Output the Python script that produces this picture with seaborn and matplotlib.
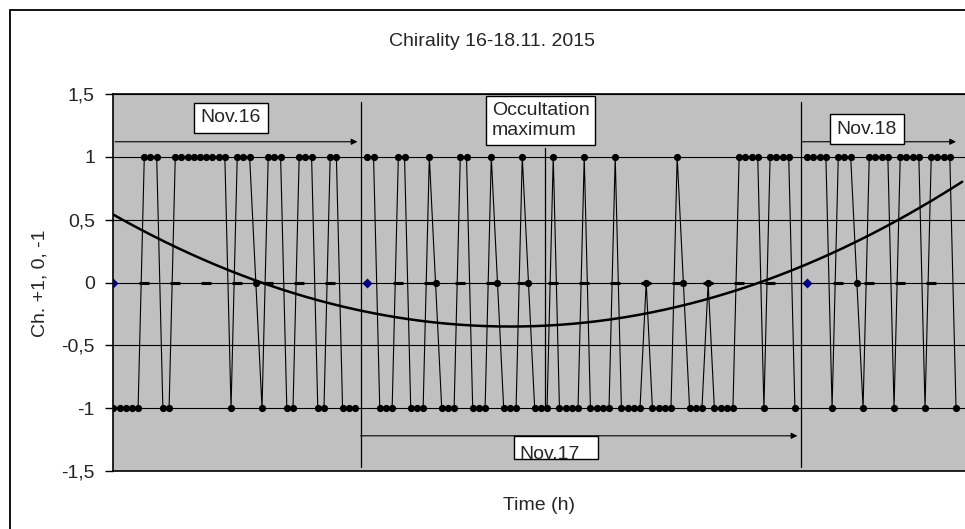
import numpy as np
import pandas as pd
import matplotlib
matplotlib.use("Agg")
import matplotlib.pyplot as plt
import matplotlib.patches as mpatches
import seaborn as sns

# chirality per sample (+1, 0, -1), one list per day
nov16 = [-1, -1, -1, -1, -1, 1, 1, 1, -1, -1,
         1, 1, 1, 1, 1, 1, 1, 1, 1, -1,
         1, 1, 1, 0, -1, 1, 1, 1, -1, -1,
         1, 1, 1, -1, -1, 1, 1, -1, -1, -1]
nov17 = [1, 1, -1, -1, -1, 1, 1, -1, -1, -1,
         1, 0, -1, -1, -1, 1, 1, -1, -1, -1,
         1, 0, -1, -1, -1, 1, 0, -1, -1, -1,
         1, -1, -1, -1, -1, 1, -1, -1, -1, -1,
         1, -1, -1, -1, -1, 0, -1, -1, -1, -1,
         1, 0, -1, -1, -1, 0, -1, -1, -1, -1,
         1, 1, 1, 1, -1, 1, 1, 1, 1, -1]
nov18 = [1, 1, 1, 1, -1, 1, 1, 1, 0, -1,
         1, 1, 1, 1, -1, 1, 1, 1, 1, -1,
         1, 1, 1, 1, -1]
day_first = [0, 41, 112]          # sample index of first sample of each day
hour_marks = [5, 10, 15, 20, 25, 30, 35,
              46, 51, 56, 61, 66, 71, 76, 81, 86, 91, 96, 101, 106,
              117, 122, 127, 132]
n_cat = 138
y_ticks = [-1.5, -1, -0.5, 0, 0.5, 1, 1.5]
y_labels = ["-1,5", "-1", "-0,5", "0", "0,5", "1", "1,5"]

# tabla larga
frames = []
for name, start, vals in zip(["16", "17", "18"], day_first, [nov16, nov17, nov18]):
    frames.append(pd.DataFrame({"idx": start + np.arange(len(vals)),
                                "val": vals, "day": name}))
data = pd.concat(frames, ignore_index=True)

# tendencia polinomica (orden 2) como en excel
coef = np.polyfit(data["idx"], data["val"], 2)
xs = np.linspace(0, n_cat - 1, 200)
trend = pd.DataFrame({"idx": xs, "val": np.polyval(coef, xs)})

sns.set_theme(style="white")
plt.rcParams["font.family"] = ["Liberation Sans", "DejaVu Sans"]

fig = plt.figure(figsize=(9.65, 5.29), dpi=100)
ax = fig.add_axes([113 / 965, 58 / 529, 852 / 965, 377 / 529])
ax.set_facecolor("#C0C0C0")

sns.lineplot(data=data, x="idx", y="val", units="day", estimator=None,
             color="black", lw=0.8, marker="o", markersize=5.2,
             markeredgewidth=0, legend=False, ax=ax, zorder=3)
sns.scatterplot(x=hour_marks, y=[0] * len(hour_marks), marker="_",
                color="black", s=45, linewidth=2.2, ax=ax, zorder=4)
sns.scatterplot(x=day_first, y=[0] * len(day_first), marker="D",
                color="#000080", s=26, linewidth=0, ax=ax, zorder=4)
sns.lineplot(data=trend, x="idx", y="val", color="black", lw=1.8, ax=ax, zorder=5)

ax.set_xlim(-0.05, 137.45)
ax.set_ylim(-1.5, 1.5)
ax.set_yticks(y_ticks)
ax.set_yticklabels(y_labels, fontsize=14)
ax.set_xticks([])
ax.set_xlabel("")
ax.set_ylabel("")
ax.yaxis.grid(True, color="black", lw=0.8)
ax.set_axisbelow(True)
ax.tick_params(axis="y", direction="out", length=6, width=1, color="black",
               left=True, pad=7)
for s in ["left", "top", "bottom"]:
    ax.spines[s].set_color("black")
    ax.spines[s].set_linewidth(1.2)
ax.spines["right"].set_visible(False)

# lineas de cambio de dia
for xd in [40, 111]:
    ax.plot([xd, xd], [-1.47, 1.44], color="black", lw=0.9, zorder=2)

# flechas
arr = dict(arrowstyle="-|>", color="black", lw=0.8, mutation_scale=9,
           shrinkA=0, shrinkB=0)
ax.annotate("", xy=(39.4, 1.12), xytext=(0.3, 1.12), arrowprops=arr)
ax.annotate("", xy=(110.4, -1.22), xytext=(39.9, -1.22), arrowprops=arr)
ax.annotate("", xy=(136.0, 1.12), xytext=(111.2, 1.12), arrowprops=arr)

# marca maximo de ocultacion
ax.plot([69.6, 69.6], [-1, 1.07], color="black", lw=0.9, zorder=2)

box = dict(boxstyle="square,pad=0.35", fc="white", ec="black", lw=1)
ax.text(19.0, 1.31, "Nov.16", fontsize=14, ha="center", va="center", bbox=box, zorder=6)
ax.text(121.6, 1.22, "Nov.18", fontsize=14, ha="center", va="center", bbox=box, zorder=6)
ax.text(61.1, 1.29, "Occultation\nmaximum", fontsize=14, ha="left", va="center",
        linespacing=1.25, bbox=dict(boxstyle="square,pad=0.3", fc="white",
                                     ec="black", lw=1), zorder=6, clip_on=False)

# caja Nov.17 con texto recortado
rect = mpatches.Rectangle((64.7, -1.405), 13.6, 0.18, fc="white", ec="black",
                          lw=1, zorder=6)
ax.add_patch(rect)
t17 = ax.text(65.6, -1.405, "Nov.17", fontsize=14, ha="left", va="baseline", zorder=7)
t17.set_clip_path(rect)

fig.text(492 / 965, 1 - 42 / 529, "Chirality 16-18.11. 2015", fontsize=14,
         ha="center", va="center")
fig.text(539 / 965, 1 - 506 / 529, "Time (h)", fontsize=14, ha="center", va="center")
fig.text(40 / 965, 1 - 283 / 529, "Ch. +1, 0, -1", fontsize=14, rotation=90,
         ha="center", va="center")

# marco exterior del grafico
fig.patches.append(mpatches.Rectangle((10 / 965, -0.1), 1.2, 1 - 10 / 529 + 0.1,
                                      transform=fig.transFigure, fill=False,
                                      ec="black", lw=1.3))

fig.savefig("out.png", dpi=100)
plt.close()
